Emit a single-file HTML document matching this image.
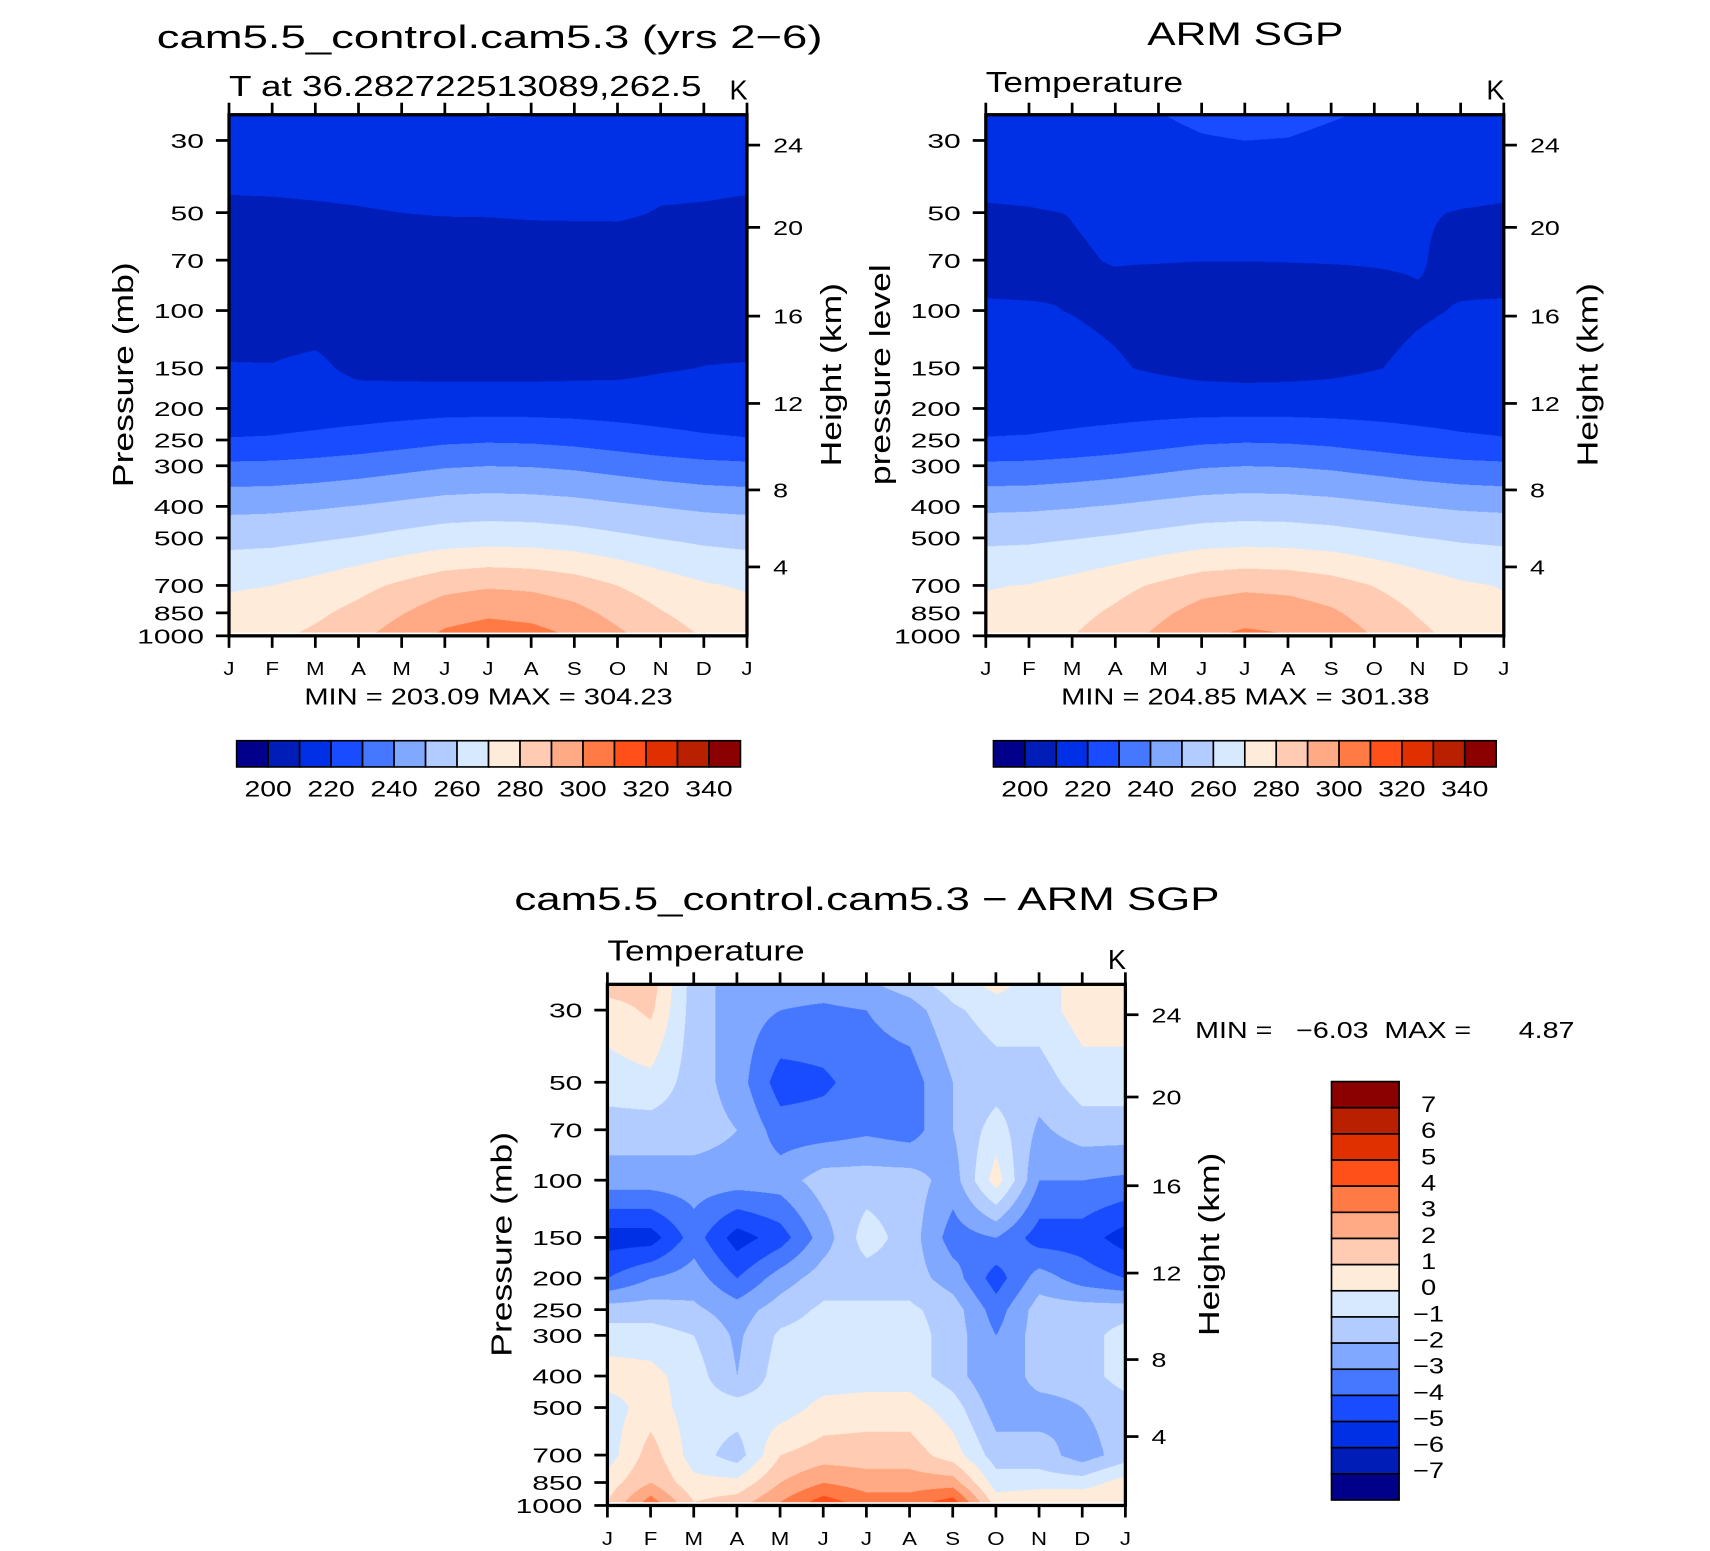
<!DOCTYPE html>
<html><head><meta charset="utf-8">
<style>
html,body{margin:0;padding:0;background:#fff;}
#root{position:relative;width:1560px;height:1415px;transform:scale(1.0905,1.0925);transform-origin:0 0;font-family:"Liberation Sans",sans-serif;}
canvas{position:absolute;}
svg{position:absolute;left:0;top:0;}
</style></head>
<body>
<div id="root">
<canvas id="cA" style="left:210px;top:105px;width:475px;height:477px" width="950" height="954"></canvas>
<canvas id="cB" style="left:904px;top:105px;width:475px;height:477px" width="950" height="954"></canvas>
<canvas id="cC" style="left:557px;top:901px;width:475px;height:477px" width="950" height="954"></canvas>
<svg id="ov" width="1560" height="1415" viewBox="0 0 1560 1415"></svg>
</div>
<script>
// ---- data ----
const months = ["J","F","M","A","M","J","J","A","S","O","N","D","J"];
const levels = [25,30,50,70,100,150,200,250,300,400,500,700,850,975];
const pressureTicks = [30,50,70,100,150,200,250,300,400,500,700,850,1000];
const heightTickLabels = [24,20,16,12,8,4];
const heightTickPressures = [31,55.5,104,193,356,614];
const tempLevels = [200,210,220,230,240,250,260,270,280,290,300,310,320,330,340];
const tempLabels = [200,220,240,260,280,300,320,340];
const diffLevels = [-7,-6,-5,-4,-3,-2,-1,0,1,2,3,4,5,6,7];
const diffLabels = [7,6,5,4,3,2,1,0,-1,-2,-3,-4,-5,-6,-7];
const palette = ["#00008b","#001db8","#0030e6","#1a4cff","#4578ff","#80a8ff","#b3ccff","#d6e9ff","#ffebd9","#ffccb3","#ffaa85","#ff7a45","#ff5019","#e03000","#b82000","#8b0000"];
// model T (rows = months, cols = levels)
const modelT = [
[215,213,209,206,206,210.5,215,220.5,232,247.5,257,269,273,276],
[215.2,213.1,209.1,206,205.9,210.4,215.1,220.9,232.4,247.9,257.5,270,274.3,277.4],
[215.8,213.4,209.3,205.8,205.6,212,215.4,222.2,233.6,249,258.8,273,278.1,281.6],
[216.6,213.8,209.6,205.6,205.2,207.5,215.8,223.9,235.2,250.5,260.6,277,283.2,287.2],
[217.6,214.3,210,205.4,204.7,207,216.3,226,237.2,252.4,262.9,282,289.6,294.2],
[218.6,214.8,210.4,205.1,204.2,206.5,216.8,228.2,239.2,254.3,265.1,287,296,301.2],
[220.5,215,210.5,205,204,206.5,217,229,240,255,266,289,298.5,304],
[220.3,214.9,210.9,205.1,204.1,206.5,216.9,228.6,239.6,254.6,265.6,288,297.2,302.6],
[218.2,214.6,211,205.2,204.4,207,216.6,227.3,238.4,253.5,264.2,285,293.4,298.4],
[217.2,214.1,211,205.5,204.9,207.5,216.1,225.2,236.4,251.6,262,280,287,291.4],
[216.2,213.6,209.6,205.7,205.4,209.2,215.6,223.1,234.4,249.8,259.7,275,280.7,284.4],
[215.4,213.2,209.4,205.9,205.8,210.2,215.2,221.4,232.8,248.3,257.9,271,275.6,278.8],
[215,213,209,206,206,210.5,215,220.5,232,247.5,257,269,273,276]];
// observed T
const obsT = [
[214,213,209.5,207,211,214,216,220.5,232,248,258,269.5,272,274],
[214.4,213.2,209.7,207.2,210.7,213.6,216,220.9,232.4,248.4,258.4,270.4,273.2,275.4],
[215.4,213.8,210.1,209.6,209.8,212.4,216.2,222.2,233.6,249.4,259.6,273.2,276.9,279.4],
[216.8,214.6,210.7,210.2,208.6,210.8,216.4,223.9,235.2,250.8,261.2,276.9,281.8,284.8],
[219.6,216.6,211.5,210.2,207.1,208.8,216.7,226,237.2,252.6,263.2,281.5,287.9,291.6],
[222.5,219,212.2,210.1,205.6,206.8,216.9,228.2,239.2,254.3,265.2,286.2,294.1,298.3],
[224,220,212.5,210.1,205,206,217,229,240,255,266,288,296.5,301],
[223.5,219.5,212.4,210.2,205.3,206.4,217,228.6,239.6,254.7,265.6,287.1,295.3,299.7],
[221,217.2,211.9,210.3,206.2,207.6,216.8,227.3,238.4,253.6,264.4,284.3,291.6,295.6],
[218.5,215.2,211.2,210.4,207.7,209.6,216.6,225.2,236.4,251.9,262.4,279.7,285.5,288.9],
[216.1,214.2,210.4,210.5,209.2,211.6,216.3,223.1,234.4,250.1,260.4,275.1,279.4,282.1],
[214.7,213.4,209.8,208.3,210.4,213.2,216.1,221.4,232.8,248.7,258.8,271.4,274.5,276.7],
[214,213,209.5,207,211,214,216,220.5,232,248,258,269.5,272,274]];
// difference
const diffT = [
[1.5,0.5,-0.5,-1.5,-2.5,-5.5,-4,-1.5,-0.5,0.5,-0.5,-0.5,0.5,1],
[1.5,1.2,-0.3,-1.5,-2.5,-5.5,-3,-1.5,-0.5,0.3,0.5,1.5,2,3.5],
[-1.5,-1.5,-1.5,-1.5,-2.5,-3.5,-2.5,-1.8,-1,-0.5,-0.5,-0.5,0.3,1],
[-2.5,-2.5,-2.5,-2,-2.5,-5.5,-4,-2.5,-2.2,-2,-0.5,-1.5,0.3,1.5],
[-2.5,-3,-4.5,-3.5,-2.5,-4.5,-2.5,-1.5,-0.8,-0.5,-0.5,1,2,3],
[-2.5,-3.2,-4.2,-3.5,-1.5,-2.5,-1.5,-0.8,-0.5,-0.5,0.3,1.5,3,4.5],
[-2.2,-3,-3.5,-3.2,-1.5,-0.5,-1.5,-0.8,-0.5,-0.5,0.5,1.5,2.5,3.5],
[-1.5,-2.5,-3.5,-3.5,-1.5,-1.5,-1.5,-0.8,-0.5,-0.5,0.5,1.5,2.5,3.5],
[-0.5,-1.2,-2,-2,-2.5,-3.5,-2.5,-1.5,-1.5,-1.5,-0.5,0.5,2.5,4.5],
[0.3,-0.5,-1.5,-0.5,0.5,-3,-4.5,-3.5,-3,-3,-2.5,-1.5,-0.5,0.5],
[-0.5,-0.5,-1.5,-2.2,-3,-4.5,-2.5,-1.5,-1.5,-1.5,-2.5,-1.5,-0.5,1],
[0.5,0.5,-0.5,-1.5,-3,-4.5,-3.5,-1.5,-1.5,-1.5,-2,-2.5,-0.5,1],
[0.5,0.5,-0.5,-1.5,-3.2,-5.5,-4,-1.5,-0.5,-0.5,-1.5,-1.5,0.5,1]];

// ---- geometry ----
const PW=475, PH=477, PTOP=25, PBOT=1000;
const K = PH/Math.log10(PBOT/PTOP);
function yOfP(p){return K*Math.log10(p/PTOP);}
function pOfY(y){return PTOP*Math.pow(10,y/K);}
function xOfM(i){return i*PW/(months.length-1);}
const hex=c=>[parseInt(c.substr(1,2),16),parseInt(c.substr(3,2),16),parseInt(c.substr(5,2),16)];
const pal=palette.map(hex);
function binOf(v,lv){let i=0;while(i<lv.length&&v>=lv[i])i++;return i;}
function drawField(id,data,lv){
  const cv=document.getElementById(id),ctx=cv.getContext('2d');
  const W=cv.width,H=cv.height,img=ctx.createImageData(W,H);
  const logL=levels.map(p=>Math.log(p));
  for(let py=0;py<H;py++){
    const p=pOfY(py/H*PH);
    if(p>levels[levels.length-1]){for(let px=0;px<W;px++){const o=(py*W+px)*4;img.data[o]=img.data[o+1]=img.data[o+2]=img.data[o+3]=255;}continue;}
    const lp=Math.log(p);let k=0;while(k<levels.length-2&&lp>logL[k+1])k++;
    let t=(lp-logL[k])/(logL[k+1]-logL[k]);t=Math.max(0,Math.min(1,t));
    for(let px=0;px<W;px++){
      const mx=px/W*(months.length-1);let m=Math.min(Math.floor(mx),months.length-2);const s=mx-m;
      const v=(1-s)*((1-t)*data[m][k]+t*data[m][k+1])+s*((1-t)*data[m+1][k]+t*data[m+1][k+1]);
      const c=pal[binOf(v,lv)],o=(py*W+px)*4;
      img.data[o]=c[0];img.data[o+1]=c[1];img.data[o+2]=c[2];img.data[o+3]=255;
    }
  }
  ctx.putImageData(img,0,0);
}
drawField('cA',modelT,tempLevels);
drawField('cB',obsT,tempLevels);
drawField('cC',diffT,diffLevels);

// ---- axes ----
const NS='http://www.w3.org/2000/svg', ov=document.getElementById('ov');
function el(tag,attrs,text){const e=document.createElementNS(NS,tag);for(const k in attrs)e.setAttribute(k,attrs[k]);if(text!==undefined)e.textContent=text;ov.appendChild(e);return e;}
function axes(x0,y0,name,ylab){
  let f=el('rect',{x:x0,y:y0,width:PW,height:PH,fill:'none',stroke:'#000','stroke-width':3});
  
  
  months.forEach((m,i)=>{
    const x=x0+xOfM(i);
    el('line',{x1:x,y1:y0+PH,x2:x,y2:y0+PH+11,stroke:'#000','stroke-width':2.5});
    el('line',{x1:x,y1:y0,x2:x,y2:y0-11,stroke:'#000','stroke-width':2.5});
    let t=el('text',{x:x,y:y0+PH+36,'font-size':17,'text-anchor':'middle','data-sx':1.2},m);
    
    
  });
  pressureTicks.forEach(p=>{
    const y=y0+yOfP(p);
    el('line',{x1:x0,y1:y,x2:x0-12,y2:y,stroke:'#000','stroke-width':2.5});
    let t=el('text',{x:x0-23,y:y+7,'font-size':19,'text-anchor':'end','data-sx':1.45},String(p));
    
    
  });
  heightTickPressures.forEach((p,i)=>{
    const y=y0+yOfP(p);
    el('line',{x1:x0+PW,y1:y,x2:x0+PW+12,y2:y,stroke:'#000','stroke-width':2.5});
    let t=el('text',{x:x0+PW+24,y:y+7,'font-size':19,'data-sx':1.3},String(heightTickLabels[i]));
    
    
  });
  let yl=el('text',{transform:`translate(${x0-88},${y0+238}) rotate(-90)`,'font-size':26,'text-anchor':'middle','data-sx':1.25},ylab);
  
  
  let hl=el('text',{transform:`translate(${x0+PW+86},${y0+238}) rotate(-90)`,'font-size':26,'text-anchor':'middle','data-sx':1.25},'Height (km)');
  
  
  let k=el('text',{x:x0+PW-16,y:y0-14,'font-size':25},'K');
  
  
}
axes(210,105,'model','Pressure (mb)');
axes(904,105,'obs','pressure level');
axes(557,901,'diff','Pressure (mb)');
function txt(x,y,s,size,anchor,name,sx){let t=el('text',{x:x,y:y,'font-size':size,'text-anchor':anchor||'start','data-sx':sx||1.3},s);}
txt(449,44,'cam5.5_control.cam5.3 (yrs 2\u22126)',30,'middle','model-title',1.39);
txt(210,88,'T at 36.282722513089,262.5',26,'start','model-subtitle',1.3);
txt(1142,41,'ARM SGP',30,'middle','obs-title',1.3);
txt(904,84,'Temperature',26,'start','obs-subtitle',1.24);
txt(795,833,'cam5.5_control.cam5.3 \u2212 ARM SGP',30,'middle','diff-title',1.34);
txt(557,879,'Temperature',26,'start','diff-subtitle',1.24);
txt(448,645,'MIN = 203.09 MAX = 304.23',21,'middle','model-min-max',1.27);
txt(1142,645,'MIN = 204.85 MAX = 301.38',21,'middle','obs-min-max',1.27);
el('text',{x:1096,y:950,'font-size':21,'data-sx':1.25,'style':'white-space:pre'},'MIN =   \u22126.03  MAX =      4.87');
function hbar(x0,name){
  const w=(x0===217?462:461)/palette.length;
  palette.forEach((c,i)=>{let r=el('rect',{x:x0+i*w,y:678,width:w,height:24,fill:c,stroke:'#000','stroke-width':1.5});});
  tempLabels.forEach(v=>{const i=tempLevels.indexOf(v)+1;let t=el('text',{x:x0+i*w,y:729,'font-size':20,'text-anchor':'middle','data-sx':1.3},String(v));});
}
hbar(217,'model-colorbar');hbar(911,'obs-colorbar');
(function(){
  const h=383/palette.length;
  palette.slice().reverse().forEach((c,i)=>{let r=el('rect',{x:1221,y:990+i*h,width:62,height:h,fill:c,stroke:'#000','stroke-width':1.5});});
  diffLabels.forEach((v,i)=>{let t=el('text',{x:1310,y:990+(i+1)*h+4,'font-size':20,'text-anchor':'middle','data-sx':1.25},v<0?'\u2212'+(-v):String(v));});
})();
// horizontal stretch to mimic the wide NCL font
ov.querySelectorAll('text[data-sx]').forEach(t=>{
  const sx=parseFloat(t.getAttribute('data-sx'));
  const L=t.getComputedTextLength();
  if(L>0){t.setAttribute('textLength',(L*sx).toFixed(1));t.setAttribute('lengthAdjust','spacingAndGlyphs');}
});
</script>
</body></html>
